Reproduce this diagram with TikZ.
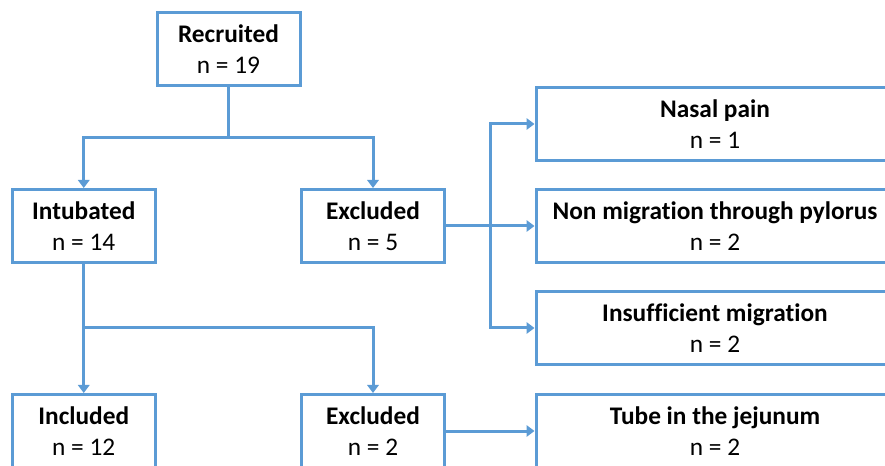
\documentclass[tikz,border=0pt]{standalone}
\usepackage{fontspec}
\setmainfont{Carlito}[Ligatures=NoCommon]
\usetikzlibrary{arrows.meta}
\definecolor{flowblue}{RGB}{91,155,213}

\begin{document}
\begin{tikzpicture}[x=0.75pt,y=-0.75pt,
  box/.style={rectangle,draw=flowblue,line width=2.25pt,minimum width=107.25pt,minimum height=54.75pt,inner sep=0pt,align=center,font=\fontsize{19}{23.3}\selectfont},
  widebox/.style={box,minimum width=268.5pt},
  link/.style={draw=flowblue,line width=2.25pt},
  arr/.style={link,-{Triangle[length=6pt,width=8.5pt]}}]
\useasboundingbox (0,0) rectangle (885,466);
\clip (0,0) rectangle (885,466);
%\usetikzlibrary{arrows.meta}
\path (228.5,49.5) node(rec)[box]{\textbf{Recruited}\\n = 19}
(83.75,226) node(intub)[box]{\textbf{Intubated}\\n = 14}
(373,226) node(excl)[box]{\textbf{Excluded}\\n = 5}
(715,124) node(pain)[widebox]{\textbf{Nasal pain}\\n = 1}
(715,226) node(pylor)[widebox]{\textbf{Non migration through pylorus}\\n = 2}
(715,328) node(insuf)[widebox]{\textbf{Insufficient migration}\\n = 2}
(83.75,431) node(incl)[box]{\textbf{Included}\\n = 12}
(373,431) node(excltwo)[box]{\textbf{Excluded}\\n = 2}
(715,431) node(jej)[widebox]{\textbf{Tube in the jejunum}\\n = 2};
\coordinate (top) at (228.5,138);
\coordinate (mid) at (490,226);
\coordinate (low) at (83.75,328);
\draw[link] (rec.south) -- (top);
\draw[arr] (top) -| (intub.north);
\draw[arr] (top) -| (excl.north);
\draw[arr] (excl.east) -- (pylor.west);
\draw[arr] (mid) |- (pain.west);
\draw[arr] (mid) |- (insuf.west);
\draw[link] (intub.south) -- (low);
\draw[arr] (low) -- (incl.north);
\draw[arr] (low) -| (excltwo.north);
\draw[arr] (excltwo.east) -- (jej.west);
\end{tikzpicture}
\end{document}
